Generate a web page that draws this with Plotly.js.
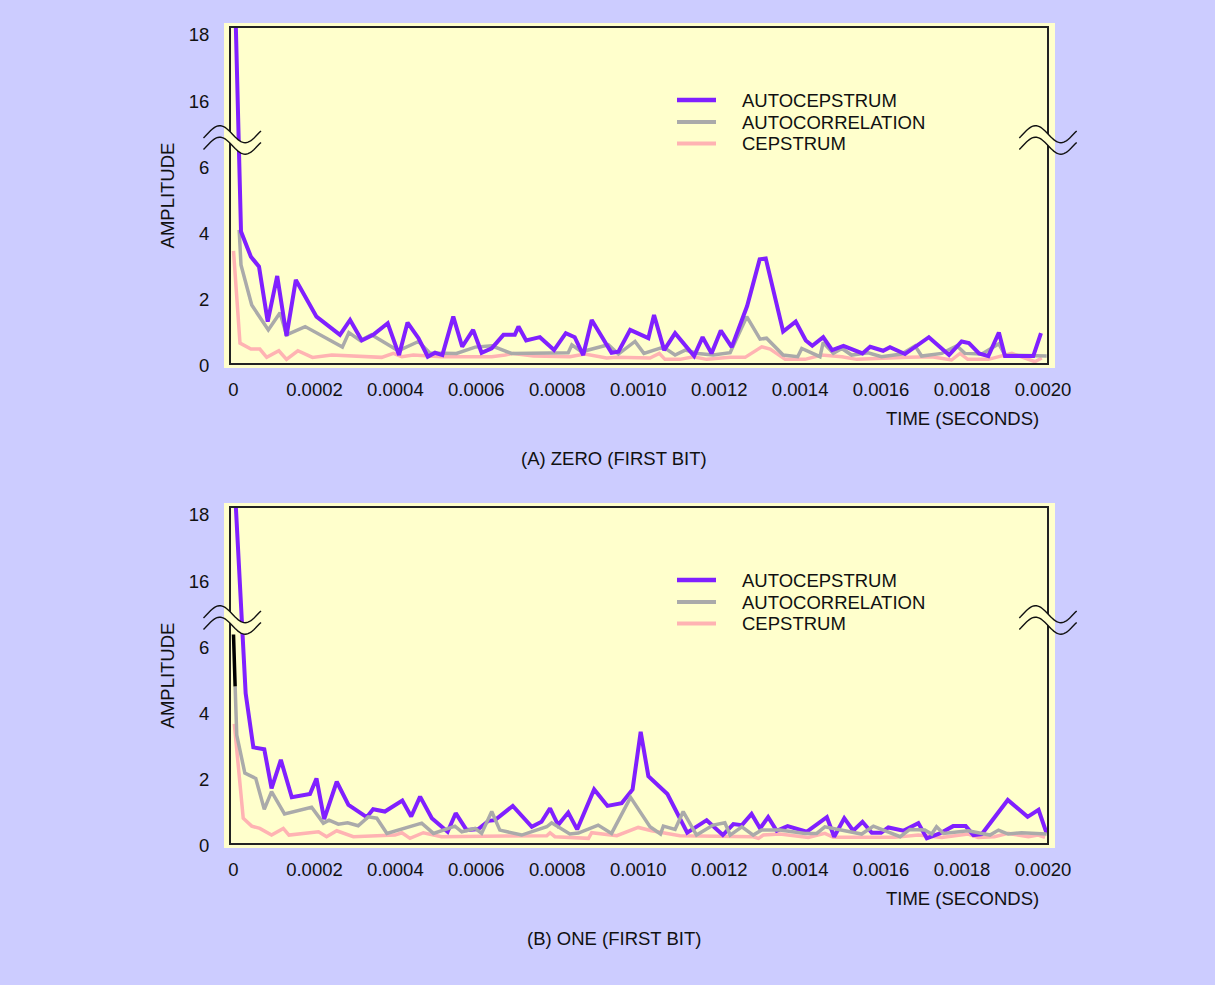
<!DOCTYPE html>
<html>
<head>
<meta charset="utf-8">
<script src="https://cdn.plot.ly/plotly-3.0.1.min.js"></script>
<style>html,body{margin:0;padding:0;background:#ccccff;}#chart{width:1215px;height:985px;}</style>
</head>
<body>
<div id="chart"></div>
<script>
// ---------------- DATA (time in microseconds, amplitude as read) ----------------
// Panel A: ZERO (first bit)
const autocepA_us = [3,18.5,43,63,84.5,108,131,154,205,263,288,317,345,381,409,430,457,480,498,516,543,565,592,613,638,667,695,704,723,757,792,821,843,864,885,934,951,980,1025,1039,1064,1091,1138,1159,1181,1204,1231,1269,1300,1315,1358,1389,1414,1430,1457,1479,1507,1554,1573,1605,1622,1659,1718,1768,1799,1817,1842,1865,1891,1906,1976,1995];
const autocepA_val = [19.5,3.97,3.21,2.91,1.25,2.63,0.82,2.51,1.40,0.85,1.30,0.68,0.85,1.20,0.24,1.22,0.75,0.19,0.31,0.24,1.40,0.49,1.00,0.31,0.44,0.85,0.85,1.10,0.68,0.78,0.39,0.90,0.78,0.24,1.30,0.31,0.34,1.00,0.75,1.45,0.39,0.90,0.21,0.78,0.29,0.98,0.48,1.72,3.13,3.16,0.95,1.25,0.68,0.52,0.78,0.39,0.52,0.29,0.49,0.37,0.48,0.27,0.78,0.24,0.65,0.60,0.29,0.21,0.92,0.21,0.21,0.90];

const autocorA_us = [14,18.5,45,86,115,131,177,269,285,313,341,407,457,485,551,597,638,687,827,836,860,926,951,992,1014,1062,1091,1116,1148,1185,1227,1268,1301,1317,1358,1394,1404,1449,1457,1482,1503,1527,1568,1601,1651,1684,1700,1750,1787,1807,1849,1891,1906,2009];
const autocorA_val = [4.02,2.96,1.75,1.00,1.52,0.85,1.10,0.48,0.92,0.68,0.85,0.37,0.65,0.30,0.29,0.48,0.52,0.29,0.31,0.55,0.34,0.55,0.27,0.65,0.29,0.48,0.24,0.39,0.29,0.24,0.31,1.40,0.72,0.75,0.24,0.19,0.44,0.19,0.62,0.29,0.44,0.24,0.31,0.19,0.27,0.52,0.21,0.29,0.52,0.29,0.27,0.58,0.24,0.21];

const cepA_us = [0,16,43,65,82,112,131,159,195,243,366,395,416,444,514,638,671,691,741,831,868,922,947,1029,1052,1066,1103,1136,1169,1227,1264,1305,1326,1363,1412,1453,1503,1540,1667,1725,1774,1795,1814,1865,1923,1947,1980,1997];
const cepA_val = [3.39,0.60,0.42,0.42,0.17,0.37,0.11,0.37,0.17,0.24,0.17,0.29,0.19,0.24,0.19,0.19,0.24,0.29,0.21,0.19,0.27,0.15,0.17,0.15,0.29,0.11,0.11,0.19,0.11,0.17,0.17,0.49,0.42,0.11,0.11,0.24,0.19,0.11,0.17,0.19,0.09,0.29,0.11,0.11,0.29,0.19,0.04,0.15];

// Panel B: ONE (first bit)
const autocepB_us = [0,30,49,76,94,117,144,189,205,224,255,284,329,345,374,417,439,461,490,529,549,576,605,630,646,690,737,761,782,802,827,849,891,924,959,986,1006,1025,1072,1121,1169,1209,1235,1256,1280,1301,1321,1342,1369,1416,1466,1484,1509,1531,1554,1577,1600,1618,1655,1692,1713,1745,1778,1809,1828,1849,1913,1962,1989,2009];
const autocepB_val = [19.5,4.52,2.89,2.83,1.65,2.51,1.38,1.48,1.95,0.72,1.85,1.15,0.78,1.02,0.95,1.28,0.80,1.40,0.75,0.34,0.90,0.39,0.42,0.67,0.69,1.12,0.49,0.64,1.05,0.54,0.92,0.41,1.62,1.12,1.20,1.62,3.36,2.02,1.48,0.31,0.69,0.24,0.57,0.54,0.88,0.44,0.78,0.37,0.51,0.34,0.78,0.19,0.75,0.37,0.64,0.31,0.31,0.47,0.37,0.60,0.14,0.29,0.51,0.51,0.24,0.27,1.30,0.79,1.00,0.29];

const autocorB_us = [4,8,28,55,76,94,126,193,222,236,259,282,308,333,354,379,465,494,547,564,597,613,638,658,712,774,786,831,852,901,934,981,1029,1055,1062,1091,1111,1144,1185,1214,1227,1256,1284,1305,1350,1412,1441,1461,1552,1581,1647,1671,1708,1725,1737,1754,1815,1869,1890,1914,1947,2009];
const autocorB_val = [4.73,3.26,2.11,1.95,1.02,1.55,0.88,1.08,0.60,0.69,0.57,0.61,0.52,0.79,0.75,0.29,0.60,0.29,0.51,0.34,0.44,0.29,0.95,0.39,0.24,0.49,0.61,0.27,0.30,0.54,0.29,1.38,0.49,0.27,0.51,0.41,0.95,0.24,0.54,0.61,0.24,0.49,0.24,0.39,0.39,0.29,0.29,0.49,0.27,0.51,0.19,0.41,0.39,0.27,0.49,0.29,0.37,0.24,0.39,0.27,0.31,0.27];
// leading part of the autocorrelation in panel B, drawn in black in the original
const autocorB_lead_us = [0,4];
const autocorB_lead_val = [6.3,4.73];

const cepB_us = [2,24,45,65,94,123,137,210,230,255,296,399,416,436,469,514,671,774,782,794,877,885,947,1000,1033,1103,1284,1297,1309,1350,1420,1461,1482,1634,1692,1750,1815,1840,1880,1914,1964,1988,2005];
const cepB_val = [3.6,0.75,0.51,0.44,0.24,0.44,0.24,0.34,0.19,0.37,0.19,0.24,0.31,0.14,0.31,0.19,0.21,0.22,0.31,0.19,0.14,0.31,0.22,0.47,0.37,0.22,0.19,0.14,0.24,0.27,0.17,0.29,0.17,0.17,0.24,0.17,0.27,0.17,0.19,0.29,0.19,0.24,0.17];

// axis ticks
const xTickVals = [0,0.0002,0.0004,0.0006,0.0008,0.0010,0.0012,0.0014,0.0016,0.0018,0.0020];
const xTickText = ['0','0.0002','0.0004','0.0006','0.0008','0.0010','0.0012','0.0014','0.0016','0.0018','0.0020'];
const yTickReal = [0,2,4,6,16,18];          // labels shown on the broken axis
const seriesNames = ['AUTOCEPSTRUM','AUTOCORRELATION','CEPSTRUM'];
const captions = ['(A) ZERO (FIRST BIT)','(B) ONE (FIRST BIT)'];

// ---------------- STYLE ----------------
const COL = {auto:'#8020ff', corr:'#aaaaaa', cep:'#ffb3b3', lead:'#000000'};
const FONT = 'Liberation Sans, Arial, Helvetica, sans-serif';
const FS = 18.5;
const TXT = '#111111';
const W = 1215, H = 985;
const L = 231, R = 1047, T = 28, B = 843;   // plot frame in px
const BREAK_GAP = 8;  // the broken axis skips from 6 up to 16

// broken axis: values between 6 and 16 are cut out
function disp(v){ return v >= 12 ? v - BREAK_GAP : v; }
const yTickDisp = yTickReal.map(disp);
const toSec = a => a.map(t => t * 1e-6);

function trace(us, vals, color, width, xa, ya, name){
  return {x: toSec(us), y: vals.map(disp), type:'scatter', mode:'lines',
    line:{color:color, width:width}, xaxis:xa, yaxis:ya, name:name,
    showlegend:false, hoverinfo:'skip', cliponaxis:true};
}

const data = [
  trace(cepA_us, cepA_val, COL.cep, 3.5, 'x', 'y', seriesNames[2]),
  trace(autocorA_us, autocorA_val, COL.corr, 3.5, 'x', 'y', seriesNames[1]),
  trace(autocepA_us, autocepA_val, COL.auto, 4, 'x', 'y', seriesNames[0]),
  trace(cepB_us, cepB_val, COL.cep, 3.5, 'x2', 'y2', seriesNames[2]),
  trace(autocepB_us, autocepB_val, COL.auto, 4, 'x2', 'y2', seriesNames[0]),
  trace(autocorB_us, autocorB_val, COL.corr, 3.5, 'x2', 'y2', seriesNames[1]),
  trace(autocorB_lead_us, autocorB_lead_val, COL.lead, 3.5, 'x2', 'y2', seriesNames[1]+' (lead)')
];

// pixel -> paper helpers
const pX = x => (x - L) / (R - L);
const pY = y => (B - y) / (B - T);

const shapes = [];
const annotations = [];
const panelOffsets = [0, 480];

function wavePts(x0, x1, yc, A, ta, tb){
  const pts = []; const n = 40;
  for (let i = 0; i <= n; i++){
    const t = ta + (tb - ta) * i / n;
    const phi = -0.45 + t * (2*Math.PI + 0.85);
    pts.push([x0 + (x1 - x0) * t, yc - A * Math.sin(phi)]);
  }
  return pts;
}
const toPath = pts => pts.map((p,i)=>(i?'L':'M')+pX(p[0]).toFixed(5)+','+pY(p[1]).toFixed(5)).join(' ');

function breakMark(x0, x1, yc, maskA, maskB){
  const A = 8.5, off = 11.5;
  const ta = (maskA - x0)/(x1 - x0), tb = (maskB - x0)/(x1 - x0);
  const up = wavePts(x0, x1, yc, A, ta, tb);
  const lo = wavePts(x0, x1, yc + off, A, ta, tb).reverse();
  shapes.push({type:'path', xref:'paper', yref:'paper', path: toPath(up.concat(lo)) + ' Z',
    fillcolor:'#ffffcc', line:{width:0}, layer:'above'});
  [0, off].forEach(d => {
    shapes.push({type:'path', xref:'paper', yref:'paper', path: toPath(wavePts(x0, x1, yc + d, A, 0, 1)),
      line:{color:'#111111', width:1.4}, layer:'above'});
  });
}

panelOffsets.forEach((dy, k) => {
  // light yellow panel
  shapes.push({type:'rect', xref:'paper', yref:'paper', x0:pX(224), x1:pX(1055), y0:pY(368+dy), y1:pY(23+dy),
    fillcolor:'#ffffcc', line:{width:0}, layer:'below'});
  // axis break marks
  breakMark(203.5, 261, 134.2 + dy, 224, 261);
  breakMark(1019.3, 1076.7, 134.2 + dy, 1019.3, 1055);
  // legend
  const legCols = [COL.auto, COL.corr, COL.cep];
  const legW = [4.5, 4, 4];
  const legY = [100, 122, 143.5];
  legCols.forEach((c, i) => {
    shapes.push({type:'line', xref:'paper', yref:'paper', x0:pX(677), x1:pX(716), y0:pY(legY[i]+dy), y1:pY(legY[i]+dy),
      line:{color:c, width:legW[i]}, layer:'above'});
    annotations.push({xref:'paper', yref:'paper', x:pX(740), y:pY(legY[i]+dy), xanchor:'left', yanchor:'middle',
      text:seriesNames[i], showarrow:false, font:{family:FONT, size:FS, color:TXT}});
  });
  // x axis title (right aligned)
  annotations.push({xref:'paper', yref:'paper', x:pX(1041), y:pY(418+dy), xanchor:'right', yanchor:'middle',
    text:'TIME (SECONDS)', showarrow:false, font:{family:FONT, size:FS, color:TXT}});
  // caption
  annotations.push({xref:'paper', yref:'paper', x:pX(614), y:pY(458+dy), xanchor:'center', yanchor:'middle',
    text:captions[k], showarrow:false, font:{family:FONT, size:FS, color:TXT}});
});

const xBase = {range:[-0.0000062, 0.0020099], tickvals:xTickVals, ticktext:xTickText, showgrid:false, zeroline:false,
  showline:true, mirror:true, linecolor:'#222222', linewidth:2, ticks:'', ticklabelstandoff:9,
  tickfont:{family:FONT, size:FS, color:TXT}, fixedrange:true};
const yBase = {range:[0, 10.12], tickvals:yTickDisp, ticktext:yTickReal.map(String), showgrid:false, zeroline:false,
  showline:true, mirror:true, linecolor:'#222222', linewidth:2, ticks:'', ticklabelstandoff:16, ticklabelshift:3,
  tickfont:{family:FONT, size:FS, color:TXT}, fixedrange:true,
  title:{text:'AMPLITUDE', font:{family:FONT, size:FS, color:TXT}, standoff:9}};

const split = pY(363);      // bottom of panel A frame
const splitB = pY(508);     // top of panel B frame

const layout = {
  width:W, height:H,
  margin:{l:L, r:W-R, t:T, b:H-B, pad:0},
  paper_bgcolor:'#ccccff', plot_bgcolor:'rgba(0,0,0,0)',
  font:{family:FONT, size:FS, color:TXT},
  showlegend:false,
  xaxis: Object.assign({}, xBase, {anchor:'y', domain:[0,1]}),
  yaxis: Object.assign({}, yBase, {anchor:'x', domain:[split,1]}),
  xaxis2: Object.assign({}, xBase, {anchor:'y2', domain:[0,1]}),
  yaxis2: Object.assign({}, yBase, {anchor:'x2', domain:[0,splitB]}),
  shapes:shapes, annotations:annotations
};

Plotly.newPlot('chart', data, layout, {displayModeBar:false, staticPlot:true});
</script>
</body>
</html>
